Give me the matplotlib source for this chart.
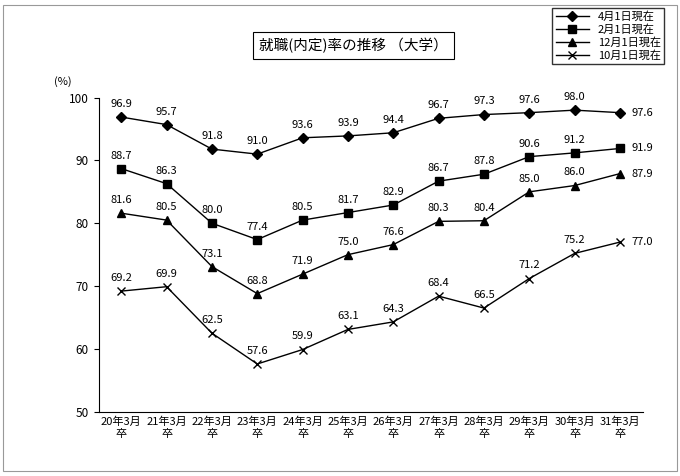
import matplotlib
matplotlib.use("Agg")
import matplotlib.pyplot as plt
from matplotlib.patches import Rectangle

plt.rcParams["font.family"] = "Noto Sans CJK JP"

categories = [f"{y}年3月\n卒" for y in range(20, 32)]
apr = [96.9, 95.7, 91.8, 91.0, 93.6, 93.9, 94.4, 96.7, 97.3, 97.6, 98.0, 97.6]
feb = [88.7, 86.3, 80.0, 77.4, 80.5, 81.7, 82.9, 86.7, 87.8, 90.6, 91.2, 91.9]
dec = [81.6, 80.5, 73.1, 68.8, 71.9, 75.0, 76.6, 80.3, 80.4, 85.0, 86.0, 87.9]
oct_ = [69.2, 69.9, 62.5, 57.6, 59.9, 63.1, 64.3, 68.4, 66.5, 71.2, 75.2, 77.0]
series = [("4月1日現在", apr, "D", 5), ("2月1日現在", feb, "s", 6),
          ("12月1日現在", dec, "^", 6), ("10月1日現在", oct_, "x", 6)]

fig = plt.figure(figsize=(6.8, 4.76), dpi=100)
ax = fig.add_axes([0.145, 0.135, 0.8, 0.66])
x = list(range(len(categories)))
for label, vals, m, ms in series:
    ax.plot(x, vals, color="black", lw=1, marker=m, ms=ms, label=label)
    for xi, v in zip(x, vals):
        if xi == len(x) - 1:
            ax.text(xi + 0.25, v, f"{v:.1f}", fontsize=8, va="center")
        else:
            ax.text(xi, v + 1.6, f"{v:.1f}", fontsize=8, ha="center")

ax.set_ylim(50, 100)
ax.set_xlim(-0.5, len(x) - 0.5)
ax.set_yticks(range(50, 101, 10))
ax.set_xticks(x)
ax.set_xticklabels(categories, fontsize=8, linespacing=1.3)
ax.tick_params(axis="y", labelsize=8.5)
ax.tick_params(axis="x", length=0)
for s in ["top", "right"]:
    ax.spines[s].set_visible(False)
ax.text(-0.05, 1.04, "(%)", transform=ax.transAxes, fontsize=8, ha="right")

fig.text(0.52, 0.905, "就職(内定)率の推移 （大学）", fontsize=10.5, ha="center", va="center",
         bbox=dict(boxstyle="square,pad=0.4", fc="white", ec="black", lw=0.8))
ax.legend(loc="upper right", bbox_to_anchor=(0.985, 0.995), bbox_transform=fig.transFigure,
          fontsize=8, frameon=True, fancybox=False, edgecolor="black",
          handlelength=3, labelspacing=0.2, borderpad=0.3)
fig.patches.append(Rectangle((0.005, 0.01), 0.99, 0.98, transform=fig.transFigure,
                             fill=False, ec="#999999", lw=0.8))
fig.savefig("out.png", dpi=100)
